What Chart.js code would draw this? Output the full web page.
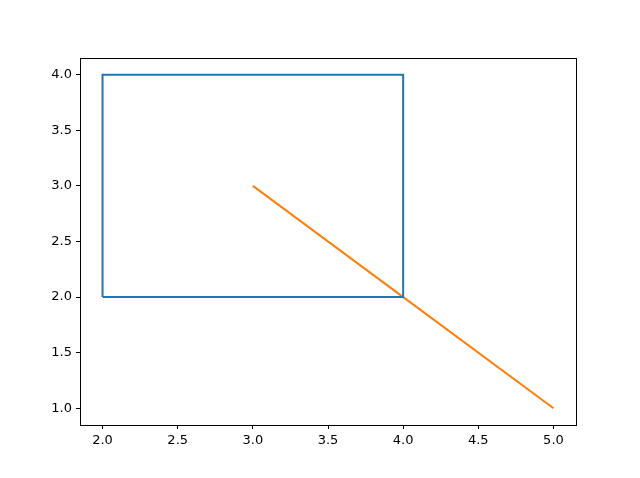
<!DOCTYPE html>
<html>
<head>
<meta charset="utf-8">
<script src="https://cdn.jsdelivr.net/npm/chart.js@4"></script>
<style>
  html, body { margin: 0; padding: 0; background: #fff; }
  #wrap { width: 640px; height: 478px; }
</style>
</head>
<body>
<div id="wrap"><canvas id="c" width="640" height="478"></canvas></div>
<script>
// rectangle outline (closed path)
const rectX = [2, 4, 4, 2, 2];
const rectY = [2, 2, 4, 4, 2];
// diagonal line
const lineX = [3, 4, 5];
const lineY = [3, 2, 1];

const xTicks = [2.0, 2.5, 3.0, 3.5, 4.0, 4.5, 5.0];
const yTicks = [1.0, 1.5, 2.0, 2.5, 3.0, 3.5, 4.0];

const toPoints = (xs, ys) => xs.map((x, i) => ({ x: x, y: ys[i] }));

// draw the top/right spines too, like a boxed axes
const boxPlugin = {
  id: 'box',
  afterDraw: (chart) => {
    const a = chart.chartArea;
    const ctx = chart.ctx;
    ctx.save();
    ctx.strokeStyle = '#000';
    ctx.lineWidth = 1;
    ctx.strokeRect(Math.round(a.left) + 0.5, Math.round(a.top) + 0.5,
      Math.round(a.right - a.left), Math.round(a.bottom - a.top));
    ctx.restore();
  }
};

const tickFont = { family: 'DejaVu Sans', size: 13 };

new Chart(document.getElementById('c').getContext('2d'), {
  type: 'scatter',
  data: {
    datasets: [
      {
        data: toPoints(rectX, rectY),
        showLine: true,
        borderColor: '#1f77b4',
        borderWidth: 2,
        pointRadius: 0,
        fill: false,
        tension: 0
      },
      {
        data: toPoints(lineX, lineY),
        showLine: true,
        borderColor: '#ff7f0e',
        borderWidth: 2,
        pointRadius: 0,
        fill: false,
        tension: 0
      }
    ]
  },
  options: {
    responsive: false,
    animation: false,
    layout: { padding: { left: 0, right: 64, top: 58, bottom: 0 } },
    plugins: {
      legend: { display: false },
      tooltip: { enabled: false }
    },
    scales: {
      x: {
        type: 'linear',
        min: 1.85,
        max: 5.15,
        afterBuildTicks: (s) => { s.ticks = xTicks.map(v => ({ value: v })); },
        afterFit: (s) => { s.height = 53; },
        grid: { drawOnChartArea: false, drawTicks: true, tickLength: 4, tickColor: '#000' },
        border: { display: true, color: '#000' },
        ticks: { color: '#000', font: tickFont, padding: 4, maxRotation: 0,
          callback: (v) => v.toFixed(1) }
      },
      y: {
        type: 'linear',
        min: 0.85,
        max: 4.15,
        afterBuildTicks: (s) => { s.ticks = yTicks.map(v => ({ value: v })); },
        afterFit: (s) => { s.width = 80; },
        grid: { drawOnChartArea: false, drawTicks: true, tickLength: 4, tickColor: '#000' },
        border: { display: true, color: '#000' },
        ticks: { color: '#000', font: tickFont, padding: 4,
          callback: (v) => v.toFixed(1) }
      }
    }
  },
  plugins: [boxPlugin]
});
</script>
</body>
</html>
